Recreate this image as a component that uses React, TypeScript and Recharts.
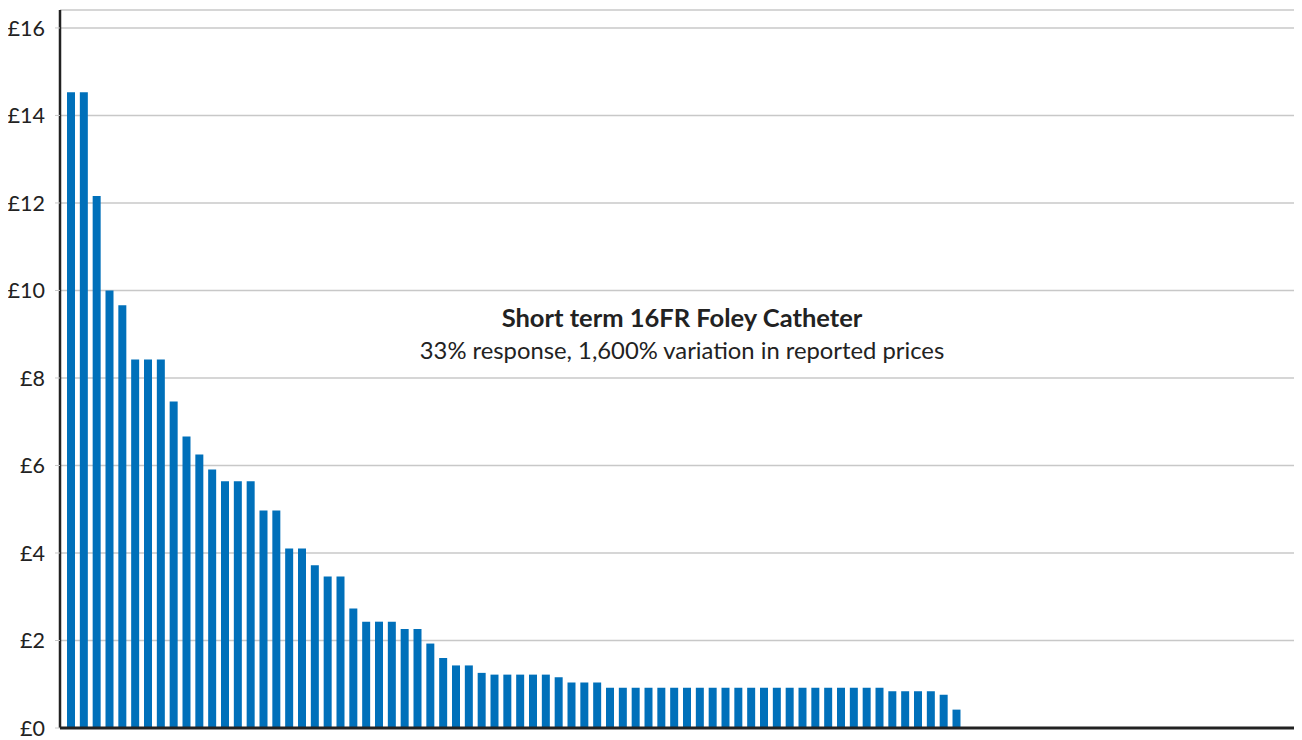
import { BarChart, Bar, XAxis, YAxis, CartesianGrid } from "recharts";

// reported unit prices (£), sorted high to low
const PRICES = [
  14.53, 14.53, 12.16, 10.0, 9.66, 8.42, 8.42, 8.42, 7.46, 6.66,
  6.25, 5.91, 5.64, 5.64, 5.64, 4.97, 4.97, 4.1, 4.1, 3.72,
  3.46, 3.46, 2.73, 2.43, 2.43, 2.43, 2.26, 2.26, 1.93, 1.6,
  1.43, 1.43, 1.26, 1.22, 1.22, 1.22, 1.22, 1.22, 1.16, 1.04,
  1.04, 1.04, 0.92, 0.92, 0.92, 0.92, 0.92, 0.92, 0.92, 0.92,
  0.92, 0.92, 0.92, 0.92, 0.92, 0.92, 0.92, 0.92, 0.92, 0.92,
  0.92, 0.92, 0.92, 0.92, 0.84, 0.84, 0.84, 0.84, 0.76, 0.42,
];
// the axis leaves room for every trust, including the ones that did not respond
const SLOT_COUNT = 96;
const Y_TICKS = [0, 2, 4, 6, 8, 10, 12, 14, 16];

const TITLE = "Short term 16FR Foley Catheter";
const SUBTITLE = "33% response, 1,600% variation in reported prices";

const data = Array.from({ length: SLOT_COUNT }, (_, i) => ({
  id: i + 1,
  price: i < PRICES.length ? PRICES[i] : null,
}));

const FONT = "Lato, 'Noto Sans', sans-serif";

export default function App() {
  return (
    <div style={{ position: "relative", width: 1294, height: 732, fontFamily: FONT }}>
      <BarChart
        width={1294}
        height={732}
        data={data}
        margin={{ top: 2, right: 5, left: 0, bottom: 8 }}
      >
        <CartesianGrid vertical={false} stroke="#c8c8c8" strokeWidth={1.5} />
        <XAxis
          dataKey="id"
          tick={false}
          tickLine={false}
          height={4}
          padding={{ left: 5, right: 0 }}
          axisLine={{ stroke: "#222", strokeWidth: 3 }}
        />
        <YAxis
          width={52}
          domain={[0, 16.41]}
          ticks={Y_TICKS}
          interval={0}
          allowDataOverflow
          tickFormatter={(v) => `£${v}`}
          tick={{ fill: "#222", fontSize: 21.5, fontFamily: FONT }}
          tickLine={{ stroke: "#c8c8c8" }}
          tickSize={5}
          tickMargin={10}
          axisLine={{ stroke: "#222", strokeWidth: 2.5 }}
        />
        <Bar dataKey="price" fill="#0070BA" barSize={8} isAnimationActive={false} />
      </BarChart>
      <div
        style={{
          position: "absolute",
          left: 274,
          width: 800,
          top: 294,
          textAlign: "center",
          color: "#222",
        }}
      >
        <div style={{ fontSize: 25.5, fontWeight: 700, lineHeight: "30px" }}>{TITLE}</div>
        <div style={{ fontSize: 23.8, lineHeight: "28px", marginTop: 4 }}>{SUBTITLE}</div>
      </div>
    </div>
  );
}
